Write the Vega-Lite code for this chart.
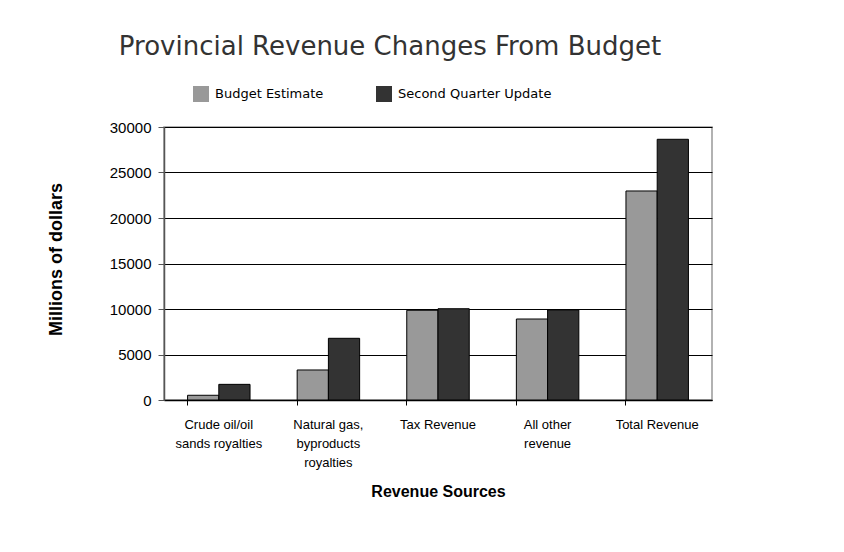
{
  "$schema": "https://vega.github.io/schema/vega-lite/v6.json",
  "width": 548,
  "height": 273,
  "autosize": {"type": "none"},
  "padding": {"left": 164, "top": 127, "right": 132, "bottom": 152},
  "background": "white",
  "title": {
    "text": "Provincial Revenue Changes From Budget",
    "font": "DejaVu Sans",
    "fontSize": 26,
    "fontWeight": "normal",
    "color": "#333333",
    "anchor": "middle",
    "frame": "group",
    "dx": -48,
    "offset": 26
  },
  "data": {
    "values": [
      {"source": "Crude oil/oil sands royalties", "series": "Budget Estimate", "value": 520},
      {"source": "Crude oil/oil sands royalties", "series": "Second Quarter Update", "value": 1720},
      {"source": "Natural gas, byproducts royalties", "series": "Budget Estimate", "value": 3300},
      {"source": "Natural gas, byproducts royalties", "series": "Second Quarter Update", "value": 6780},
      {"source": "Tax Revenue", "series": "Budget Estimate", "value": 9860},
      {"source": "Tax Revenue", "series": "Second Quarter Update", "value": 10030},
      {"source": "All other revenue", "series": "Budget Estimate", "value": 8900},
      {"source": "All other revenue", "series": "Second Quarter Update", "value": 9900},
      {"source": "Total Revenue", "series": "Budget Estimate", "value": 22970},
      {"source": "Total Revenue", "series": "Second Quarter Update", "value": 28650}
    ]
  },
  "mark": {"type": "bar", "stroke": "black", "strokeWidth": 1},
  "encoding": {
    "x": {
      "field": "source",
      "type": "nominal",
      "sort": null,
      "scale": {"paddingInner": 0.43, "paddingOuter": 0.215},
      "axis": {
        "title": "Revenue Sources",
        "titleFont": "Liberation Sans",
        "titleFontSize": 16,
        "titleFontWeight": "bold",
        "titleColor": "black",
        "titleY": 91,
        "titleBaseline": "middle",
        "labelFont": "Liberation Sans",
        "labelFontSize": 13,
        "labelColor": "black",
        "labelAngle": 0,
        "labelPadding": 13,
        "labelLineHeight": 19,
        "labelBaseline": "top",
        "labelExpr": "datum.label == 'Crude oil/oil sands royalties' ? ['Crude oil/oil', 'sands royalties'] : datum.label == 'Natural gas, byproducts royalties' ? ['Natural gas,', 'byproducts', 'royalties'] : datum.label == 'All other revenue' ? ['All other', 'revenue'] : datum.label",
        "bandPosition": 0,
        "ticks": true,
        "tickSize": 5,
        "tickColor": "black",
        "domainColor": "black",
        "domainWidth": 1.5,
        "grid": false
      }
    },
    "xOffset": {"field": "series", "type": "nominal", "scale": {"paddingInner": 0, "paddingOuter": 0}},
    "y": {
      "field": "value",
      "type": "quantitative",
      "scale": {"domain": [0, 30000], "nice": false},
      "axis": {
        "title": "Millions of dollars",
        "titleFont": "Liberation Sans",
        "titleFontSize": 18,
        "titleFontWeight": "bold",
        "titleColor": "black",
        "titleX": -108,
        "titleY": 132,
        "titleAngle": -90,
        "titleAlign": "center",
        "titleBaseline": "middle",
        "values": [0, 5000, 10000, 15000, 20000, 25000, 30000],
        "format": "d",
        "labelFont": "Liberation Sans",
        "labelFontSize": 15,
        "labelColor": "black",
        "labelPadding": 7,
        "tickSize": 6,
        "tickColor": "#555555",
        "domainColor": "#555555",
        "domainWidth": 1.5,
        "grid": true,
        "gridColor": "black",
        "gridWidth": 1,
        "gridOpacity": 1
      }
    },
    "color": {
      "field": "series",
      "type": "nominal",
      "scale": {"domain": ["Budget Estimate", "Second Quarter Update"], "range": ["#999999", "#333333"]},
      "legend": {
        "title": null,
        "orient": "none",
        "legendX": 29,
        "legendY": -41,
        "direction": "horizontal",
        "symbolType": "square",
        "symbolSize": 256,
        "symbolStrokeWidth": 0,
        "labelFont": "DejaVu Sans",
        "labelFontSize": 13,
        "labelColor": "black",
        "labelOffset": 6,
        "columnPadding": 52,
        "padding": 0
      }
    }
  },
  "config": {
    "view": {"stroke": "#999999", "strokeWidth": 1.5}
  }
}
